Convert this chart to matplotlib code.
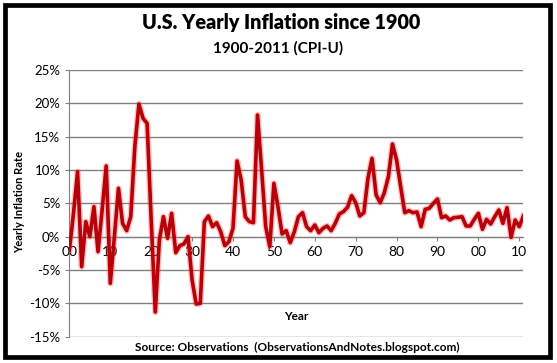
import matplotlib.pyplot as plt
from matplotlib.patches import Rectangle
from matplotlib.ticker import FuncFormatter

# yearly inflation (%), 1900..2011
years = list(range(1900, 2012))
inflation = [
    -2.0, 3.5, 9.75, -4.5, 2.25, 0.0, 4.5, -2.25, 4.0, 10.6,      # 1900s
    -7.0, 0.0, 7.25, 2.0, 0.9, 3.0, 13.5, 19.9, 17.75, 17.0,      # 1910s
    2.5, -11.3, -0.5, 3.0, -0.25, 3.5, -2.4, -1.35, -1.1, 0.0,    # 1920s
    -6.5, -10.1, -10.0, 2.25, 3.1, 1.5, 2.1, 0.75, -1.35, -0.75,  # 1930s
    1.25, 11.35, 8.5, 3.0, 2.25, 2.1, 18.25, 10.0, 1.5, -1.5,     # 1940s
    8.0, 4.5, 0.4, 0.9, -0.9, 0.75, 3.0, 3.6, 1.5, 0.9,           # 1950s
    1.75, 0.6, 1.25, 1.6, 0.9, 2.0, 3.4, 3.75, 4.4, 6.15,         # 1960s
    5.1, 3.1, 3.6, 8.75, 11.75, 6.25, 5.1, 6.6, 9.0, 13.9,        # 1970s
    11.5, 7.5, 3.6, 3.9, 3.6, 3.7, 1.5, 4.1, 4.25, 5.0,           # 1980s
    5.65, 2.85, 3.1, 2.5, 2.85, 2.9, 3.0, 1.6, 1.6, 2.6,          # 1990s
    3.5, 1.1, 2.6, 1.9, 3.0, 4.0, 2.0, 4.35, -0.1, 2.5,           # 2000s
    1.5, 3.1,                                                     # 2010s
]
decade_ticks = list(range(1900, 2012, 10))
decade_labels = ["%02d" % (y % 100) for y in decade_ticks]

plt.rcParams['font.family'] = ['Lato', 'DejaVu Sans']

fig = plt.figure(figsize=(5.57, 3.63), dpi=100)
ax = fig.add_axes([0.1246, 0.0725, 0.815, 0.7347])

ax.plot(years, [v / 100 for v in inflation], color='#FF5050', lw=4.6, alpha=0.35,
        solid_joinstyle='round', zorder=3)
ax.plot(years, [v / 100 for v in inflation], color='#B80008', lw=2.6,
        solid_joinstyle='round', zorder=4)

ax.set_xlim(1900, 2011)
ax.set_ylim(-0.15, 0.25)
ax.set_yticks([-0.15, -0.10, -0.05, 0, 0.05, 0.10, 0.15, 0.20, 0.25])
ax.yaxis.set_major_formatter(FuncFormatter(lambda v, p: "%d%%" % round(v * 100)))
ax.grid(axis='y', color='#808080', lw=1.0)
ax.set_axisbelow(True)

ax.set_xticks(decade_ticks)
ax.set_xticklabels(decade_labels)
for s in ['top', 'right']:
    ax.spines[s].set_visible(False)
ax.spines['bottom'].set_position(('data', 0))
ax.spines['bottom'].set_color('#808080')
ax.spines['left'].set_color('#808080')
ax.tick_params(axis='both', colors='#808080', labelcolor='black', labelsize=9.5,
               length=3, direction='out')
ax.tick_params(axis='x', pad=4, labelsize=10)

fig.text(20 / 557, 1 - 202 / 363, "Yearly Inflation Rate", rotation=90,
         ha='center', va='center', fontsize=8, fontweight='bold')

fig.text(281 / 557, 1 - 22 / 363, "U.S. Yearly Inflation since 1900", ha='center', va='center',
         fontsize=14.2, fontweight='heavy')
fig.text(0.5, 1 - 48 / 363, "1900-2011 (CPI-U)", ha='center', va='center',
         fontsize=11, fontweight='bold')
fig.text(296 / 557, 1 - 317 / 363, "Year", ha='center', va='center',
         fontsize=8.5, fontweight='bold')
fig.text(297 / 557, 1 - 347 / 363, "Source: Observations  (ObservationsAndNotes.blogspot.com)",
         ha='center', va='center', fontsize=8.6, fontweight='bold')

fig.patches.append(Rectangle((5 / 557, 6 / 363), 545 / 557, 352 / 363,
                             transform=fig.transFigure, fill=False,
                             edgecolor='black', lw=3.4))

fig.savefig("out.png", dpi=100)
